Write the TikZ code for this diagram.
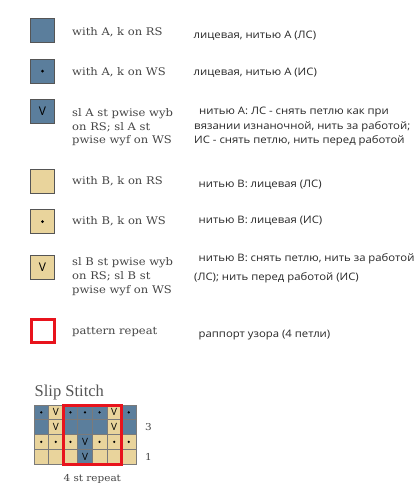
\documentclass[tikz,border=0pt]{standalone}
\usepackage{fontspec}
\usetikzlibrary{positioning,calc}
\newfontfamily\enfont[FakeStretch=1.1]{DejaVu Serif}
\newfontfamily\rufont[FakeStretch=1.1]{Open Sans}
\newfontfamily\vfont{Open Sans}
\newfontfamily\ttlfont{Liberation Serif}
\definecolor{kb}{HTML}{5B7E9C}
\definecolor{kt}{HTML}{E9D49C}
\definecolor{kred}{HTML}{E8131C}
\definecolor{kgrid}{HTML}{7A7A7A}
\definecolor{kborder}{HTML}{555555}
\definecolor{entext}{HTML}{444444}
\definecolor{rutext}{HTML}{262626}
\definecolor{ttlgray}{HTML}{555555}
\newcommand\txv{V}
\newcommand\txd{}
\newcommand\txn{}
\begin{document}
\begin{tikzpicture}[x=1pt,y=-1pt,
  legsq/.style={draw=kborder, line width=1pt, minimum size=24pt, inner sep=0pt, outer sep=0pt, font=\vfont\fontsize{12}{12}\selectfont},
  withdot/.style={path picture={\fill[black] (path picture bounding box.center) circle (1.5pt);}},
  celldot/.style={path picture={\fill[black] (path picture bounding box.center) circle (1.25pt);}},
  repsq/.style={draw=kred, line width=3pt, minimum size=23pt, inner sep=0pt, fill=white},
  en/.style={anchor=base west, inner sep=0pt, font=\enfont\fontsize{10.5}{13}\selectfont, text=entext},
  ru/.style={anchor=base west, inner sep=0pt, font=\rufont\fontsize{10.3}{13}\selectfont, text=rutext},
  cell/.style={draw=kgrid, line width=0.6pt, minimum width=14.57pt, minimum height=14.75pt, inner sep=0pt, outer sep=0pt, anchor=north west, font=\vfont\fontsize{10}{10}\selectfont},
  std/.style={celldot},
  stv/.style={},
  stn/.style={},
  chartlbl/.style={inner sep=0pt, font=\enfont\fontsize{9.5}{11}\selectfont, text=entext}]
\useasboundingbox (0,0) rectangle (417,500);

% legend squares
\node[legsq, fill=kb] (l1) at (42.5,31) {};
\node[legsq, fill=kb, withdot] (l2) at (42.5,71.2) {};
\node[legsq, fill=kb] (l3) at (42.5,111.7) {V};
\node[legsq, fill=kt] (l4) at (42.5,181.5) {};
\node[legsq, fill=kt, withdot] (l5) at (42.5,221.5) {};
\node[legsq, fill=kt] (l6) at (42.5,267) {V};
\node[repsq] (l7) at (43,331) {};

% English
\node[en] (e1) at (72,35.7) {with A, k on RS};
\node[en] (e2) at (72,76) {with A, k on WS};
\node[en] (e3a) at (72,116.7) {sl A st pwise wyb};
\node[en] (e3b) at (72,130.3) {on RS; sl A st};
\node[en] (e3c) at (72,143.7) {pwise wyf on WS};
\node[en] (e4) at (72,184.3) {with B, k on RS};
\node[en] (e5) at (72,224.7) {with B, k on WS};
\node[en] (e6a) at (72,265) {sl B st pwise wyb};
\node[en] (e6b) at (72,279.3) {on RS; sl B st};
\node[en] (e6c) at (72,293.3) {pwise wyf on WS};
\node[en] (e7) at (72,334) {pattern repeat};

% Russian
\node[ru] (r1) at (193.5,38.3) {лицевая, нитью А (ЛС)};
\node[ru] (r2) at (193.5,76) {лицевая, нитью А (ИС)};
\node[ru] (r3a) at (199,114) {нитью А: ЛС - снять петлю как при};
\node[ru] (r3b) at (194,129) {вязании изнаночной, нить за работой;};
\node[ru] (r3c) at (194,143.5) {ИС - снять петлю, нить перед работой};
\node[ru] (r4) at (198.5,187.3) {нитью В: лицевая (ЛС)};
\node[ru] (r5) at (198.5,223.3) {нитью В: лицевая (ИС)};
\node[ru] (r6a) at (198.5,261.7) {нитью В: снять петлю, нить за работой};
\node[ru] (r6b) at (194,280) {(ЛС); нить перед работой (ИС)};
\node[ru] (r7) at (198.5,337) {раппорт узора (4 петли)};

% chart
\node[anchor=base west, inner sep=0pt, font=\ttlfont\fontsize{16.5}{16.5}\selectfont, text=ttlgray] (title) at (34.5,396.5) {Slip Stitch};
\foreach [count=\ri] \rowspec in {{b/d,t/v,b/d,b/d,b/d,t/v,b/d},{b/n,t/v,b/n,b/n,b/n,t/v,b/n},{t/d,t/d,t/d,b/v,t/d,t/d,t/d},{t/n,t/n,t/n,b/v,t/n,t/n,t/n}}{
  \foreach [count=\ci] \c/\s in \rowspec {
    \node[cell, fill=k\c, st\s] (c\ri-\ci) at ({34+(\ci-1)*14.57},{405+(\ri-1)*14.75}) {\csname tx\s\endcsname};
  }
}
\draw[kred, line width=3pt] (c1-3.north west) rectangle (c4-6.south east);
\node[chartlbl, right=9pt of c2-7] (n3) {3};
\node[chartlbl, right=9pt of c4-7] (n1) {1};
\node[chartlbl, anchor=base] (rep) at ($(c4-3.south west)!0.5!(c4-6.south east)+(0,17)$) {4 st repeat};
\end{tikzpicture}
\end{document}
